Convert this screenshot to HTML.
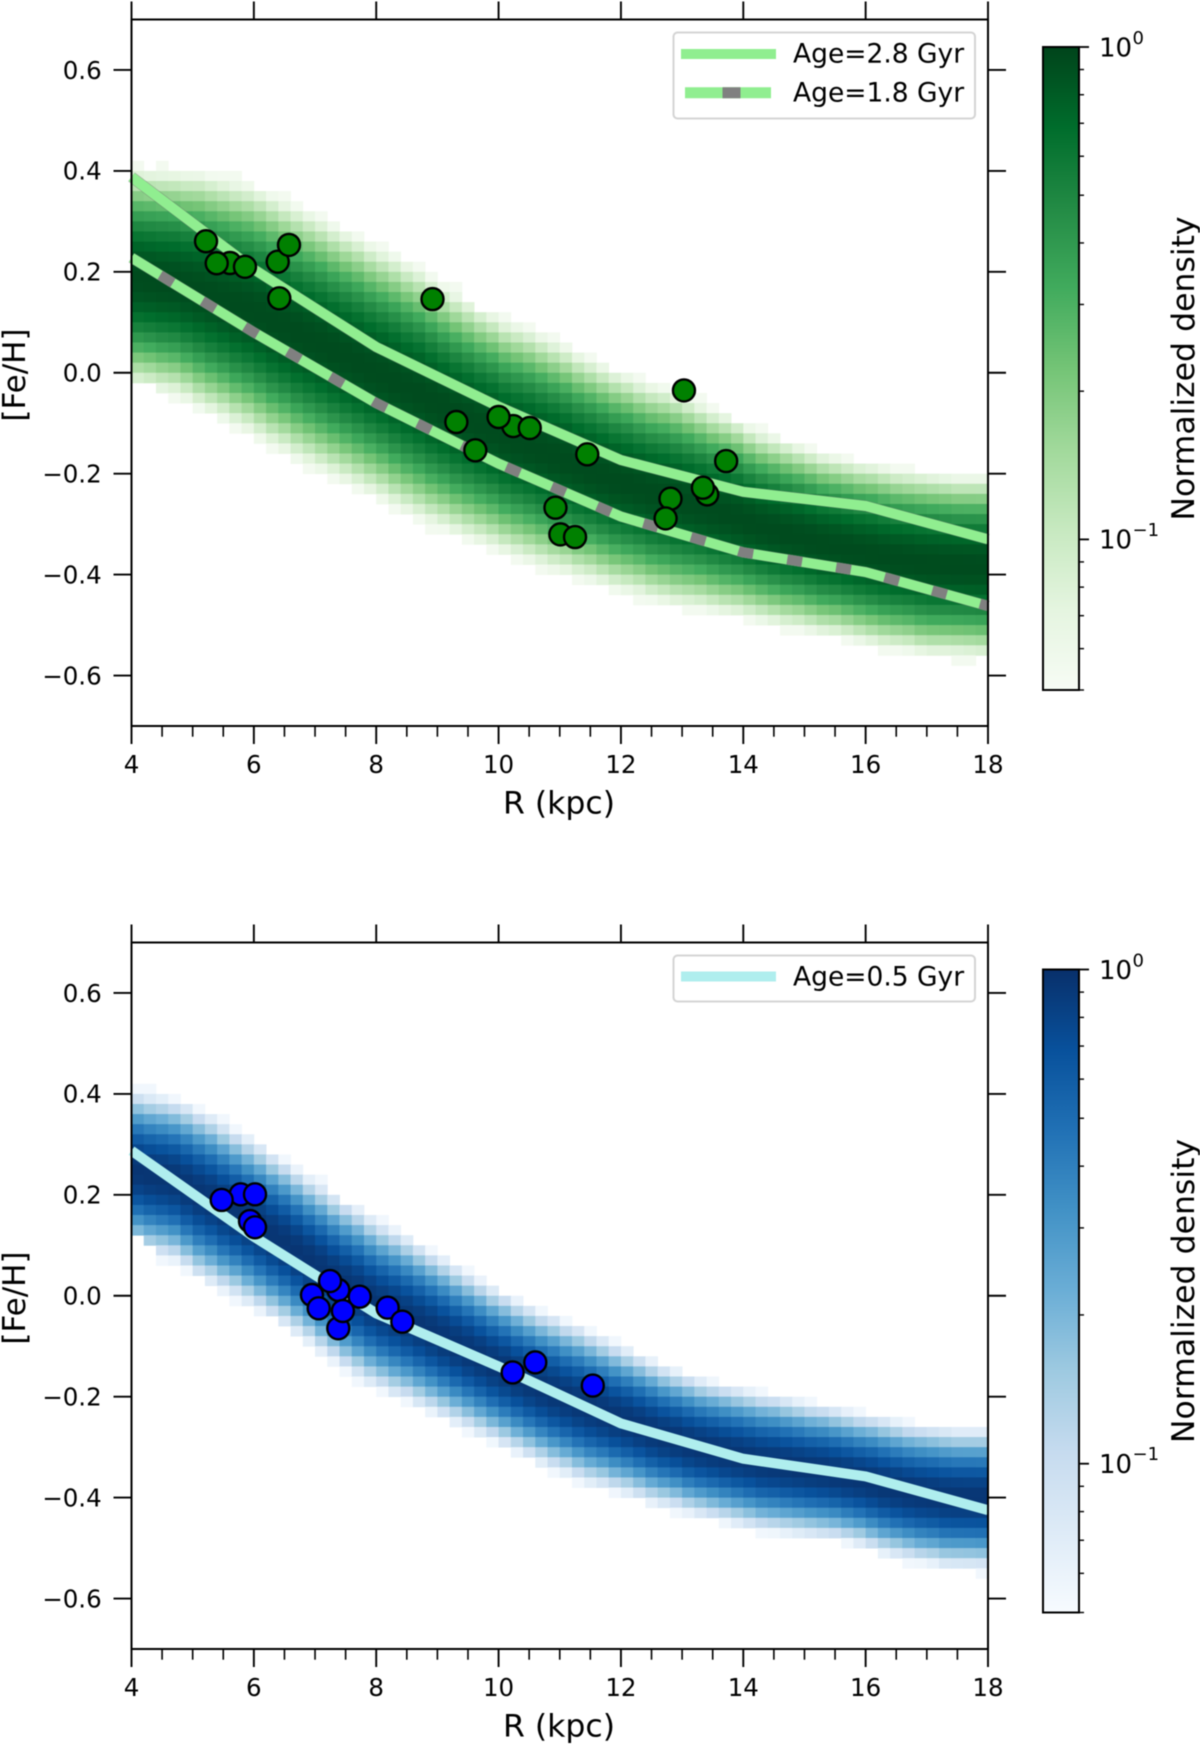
<!DOCTYPE html>
<html lang="en">
<head>
<meta charset="utf-8">
<title>Metallicity gradient density maps</title>
<style>
html,body{margin:0;padding:0;background:#fff}
svg{display:block;font-family:"DejaVu Sans","Liberation Sans",sans-serif;filter:blur(.4px)}
</style>
</head>
<body>
<svg id="chart" xmlns="http://www.w3.org/2000/svg" width="1200" height="1744" viewBox="0 0 1200 1744">
  <defs>
    <linearGradient id="greens-gradient" x1="0" y1="1" x2="0" y2="0"></linearGradient>
    <linearGradient id="blues-gradient" x1="0" y1="1" x2="0" y2="0"></linearGradient>
  </defs>
  <rect width="1200" height="1744" fill="#fff"/>
  <g id="top-marks"></g>
  <g id="bottom-marks"></g>
  <g id="frames"></g>

  <text x="559" y="813.5" font-size="31.5" text-anchor="middle" fill="#000">R (kpc)</text>
  <text x="559" y="1736.5" font-size="31.5" text-anchor="middle" fill="#000">R (kpc)</text>
  <text transform="translate(25 375) rotate(-90)" font-size="31" text-anchor="middle" fill="#000">[Fe/H]</text>
  <text transform="translate(25 1298) rotate(-90)" font-size="31" text-anchor="middle" fill="#000">[Fe/H]</text>
  <text transform="translate(1194 368.5) rotate(-90)" font-size="31.5" text-anchor="middle" fill="#000">Normalized density</text>
  <text transform="translate(1194 1291) rotate(-90)" font-size="31.5" text-anchor="middle" fill="#000">Normalized density</text>

  <g>
    <rect x="673.5" y="32.5" width="301.5" height="86" rx="4" fill="#fff" fill-opacity=".9" stroke="#d4d4d4" stroke-width="2"/>
    <line x1="681" y1="54" x2="776" y2="54" stroke="#90ee90" stroke-width="10"/>
    <text x="793" y="62.7" font-size="26.5" fill="#000">Age=2.8 Gyr</text>
    <line x1="685" y1="92.7" x2="771" y2="92.7" stroke="#90ee90" stroke-width="11"/>
    <line x1="722.5" y1="92.7" x2="740.5" y2="92.7" stroke="#808080" stroke-width="11"/>
    <text x="793" y="101.5" font-size="26.5" fill="#000">Age=1.8 Gyr</text>
  </g>
  <g>
    <rect x="673.5" y="955.5" width="301.5" height="46" rx="4" fill="#fff" fill-opacity=".9" stroke="#d4d4d4" stroke-width="2"/>
    <line x1="681" y1="976.5" x2="776" y2="976.5" stroke="#afeeee" stroke-width="10"/>
    <text x="793" y="985.5" font-size="26.5" fill="#000">Age=0.5 Gyr</text>
  </g>
</svg>
<script>
// Axis ticks
const xMajorTicks = [4, 6, 8, 10, 12, 14, 16, 18];
const xMinorTicks = [4.5, 5, 5.5, 6.5, 7, 7.5, 8.5, 9, 9.5, 10.5, 11, 11.5, 12.5, 13, 13.5, 14.5, 15, 15.5, 16.5, 17, 17.5];
const yTicks = [0.6, 0.4, 0.2, 0, -0.2, -0.4, -0.6];
const yTickLabels = ['0.6', '0.4', '0.2', '0.0', '\u22120.2', '\u22120.4', '\u22120.6'];
const colorbarMinorTicks = [0.9, 0.8, 0.7, 0.6, 0.5, 0.4, 0.3, 0.2, 0.09, 0.08, 0.07, 0.06];

// Colormaps
const greensMap = ['#f7fcf5', '#e5f5e0', '#c7e9c0', '#a1d99b', '#74c476', '#41ab5d', '#238b45', '#006d2c', '#00441b'];
const bluesMap = ['#f7fbff', '#deebf7', '#c6dbef', '#9ecae1', '#6baed6', '#4292c6', '#2171b5', '#08519c', '#08306b'];

// Heatmap: per 0.2-kpc radial column (R = 4.0 .. 17.8), the top and bottom [Fe/H] of the occupied cells
const greenUpperEdge = [.42,.40,.42,.40,.40,.40,.40,.40,.40,.38,.36,.36,.36,.34,.32,.32,.30,.28,.28,.26,.26,.24,.22,.22,.20,.18,.18,.14,.12,.12,.12,.10,.10,.08,.08,.06,.04,.04,.02,0,0,0,-.02,-.02,-.04,-.04,-.04,-.06,-.08,-.10,-.10,-.10,-.12,-.14,-.14,-.14,-.16,-.16,-.16,-.18,-.18,-.18,-.18,-.18,-.20,-.20,-.20,-.20,-.20,-.20];
const greenLowerEdge = [-.02,-.02,-.04,-.06,-.06,-.08,-.08,-.10,-.12,-.12,-.14,-.16,-.16,-.18,-.20,-.20,-.22,-.22,-.24,-.24,-.26,-.28,-.28,-.30,-.32,-.32,-.32,-.34,-.34,-.36,-.36,-.38,-.38,-.40,-.40,-.40,-.42,-.42,-.42,-.44,-.44,-.46,-.46,-.46,-.46,-.48,-.48,-.48,-.48,-.48,-.50,-.50,-.50,-.52,-.52,-.52,-.52,-.52,-.54,-.54,-.54,-.56,-.56,-.56,-.56,-.56,-.56,-.58,-.58,-.56];
const blueUpperEdge = [.42,.42,.40,.40,.38,.38,.36,.36,.34,.32,.30,.28,.28,.26,.24,.24,.20,.18,.18,.16,.16,.14,.12,.10,.10,.08,.06,.06,.04,.02,0,0,-.02,-.02,-.04,-.04,-.06,-.06,-.08,-.08,-.10,-.12,-.12,-.14,-.14,-.16,-.16,-.16,-.18,-.18,-.18,-.18,-.20,-.20,-.20,-.20,-.22,-.22,-.22,-.22,-.24,-.24,-.24,-.24,-.26,-.26,-.26,-.26,-.26,-.26];
const blueLowerEdge = [.12,.10,.06,.06,.04,.04,.02,0,-.02,-.02,-.04,-.04,-.06,-.08,-.10,-.12,-.14,-.16,-.18,-.18,-.20,-.20,-.22,-.22,-.24,-.24,-.26,-.28,-.28,-.30,-.30,-.32,-.32,-.34,-.36,-.36,-.38,-.38,-.38,-.40,-.40,-.40,-.42,-.42,-.44,-.44,-.44,-.44,-.46,-.46,-.46,-.48,-.48,-.48,-.48,-.48,-.48,-.48,-.50,-.50,-.50,-.52,-.52,-.54,-.54,-.54,-.54,-.54,-.54,-.56];

// Age gradient curves
const curveR = [4, 6, 8, 10, 12, 14, 16, 18];
const age28FeH = [.388, .205, .051, -.067, -.173, -.236, -.264, -.33];
const age18FeH = [.228, .08, -.06, -.18, -.285, -.356, -.395, -.462];
const age05FeH = [.2875, .117, -.035, -.14, -.253, -.323, -.358, -.425];

// Stars (drawn in this order)
const greenStarR = [5.61, 5.393, 5.218, 5.855, 6.39, 6.574, 6.416, 8.92, 13.03, 9.31, 9.62, 10.24, 10.0, 10.51, 11.45, 13.72, 13.41, 13.34, 12.81, 12.73, 10.93, 11.01, 11.25];
const greenStarFeH = [.2175, .217, .2606, .21, .22, .2533, .1476, .146, -.035, -.0976, -.1537, -.1056, -.0877, -.1095, -.1617, -.175, -.241, -.2278, -.2496, -.2886, -.2674, -.3203, -.3256];
const blueStarR = [5.785, 5.474, 6.019, 5.937, 6.019, 6.95, 7.06, 7.38, 7.245, 7.73, 7.38, 7.455, 8.187, 8.426, 10.23, 10.6, 11.54];
const blueStarFeH = [.201, .1898, .201, .148, .1357, .0015, -.0249, .0114, .0292, -.0019, -.0645, -.0302, -.0236, -.0514, -.152, -.132, -.178];

const SVG_NS = 'http://www.w3.org/2000/svg';
const xLeft = 131.5, xRight = 988, xMin = 4, xMax = 18;
const topPanel = {top: 19.5, bottom: 726, cbTop: 47, cbBottom: 690, cbTenth: 539.4};
const bottomPanel = {top: 942.5, bottom: 1649, cbTop: 969.5, cbBottom: 1612.5, cbTenth: 1463.7};
const binWidth = 0.2, binHeight = 0.02, smoothSpan = 3;

function xScale(r) { return xLeft + (r - xMin) * (xRight - xLeft) / (xMax - xMin); }
function yScale(v, panel) { return (panel.top + panel.bottom) / 2 - v * (panel.bottom - panel.top) / 1.4; }
function cbScale(v, panel) { return panel.cbTop - Math.log10(v) * (panel.cbTenth - panel.cbTop); }

function hexToRgb(h) { return [1, 3, 5].map(function (k) { return parseInt(h.substr(k, 2), 16); }); }
function colorFor(map, t) {
  const c = Math.max(0, Math.min(1, t)) * (map.length - 1);
  const k = Math.min(map.length - 2, Math.floor(c));
  const a = hexToRgb(map[k]), b = hexToRgb(map[k + 1]), f = c - k;
  return 'rgb(' + a.map(function (ch, n) { return Math.round(ch + (b[n] - ch) * f); }).join(',') + ')';
}
function make(parent, tag, attrs) {
  const el = document.createElementNS(SVG_NS, tag);
  Object.keys(attrs).forEach(function (k) { el.setAttribute(k, attrs[k]); });
  parent.appendChild(el);
  return el;
}
function localMean(values, i) {
  let sum = 0, n = 0;
  for (let k = Math.max(0, i - smoothSpan); k <= Math.min(values.length - 1, i + smoothSpan); k++) { sum += values[k]; n++; }
  return sum / n;
}

function drawHeatmap(parent, panel, upper, lower, map) {
  upper.forEach(function (up, i) {
    const low = lower[i];
    const meanUp = localMean(upper, i), meanLow = localMean(lower, i);
    const centre = (meanUp + meanLow) / 2, half = (meanUp - meanLow) / 2;
    const rows = Math.round((up - low) / binHeight);
    for (let j = 0; j < rows; j++) {
      const cellTop = up - j * binHeight;
      const u = (cellTop - binHeight / 2 - centre) / half;
      const r0 = xMin + i * binWidth;
      const cell = make(parent, 'rect', {
        x: xScale(r0),
        y: yScale(cellTop, panel),
        width: xScale(r0 + binWidth) - xScale(r0) + 0.4,
        height: yScale(cellTop - binHeight, panel) - yScale(cellTop, panel) + 0.4,
        fill: colorFor(map, Math.max(0.03, 1.01 - u * u - 0.03))
      });
      
      
    }
  });
}

function curvePoints(values, panel) {
  return values.map(function (v, i) { return xScale(curveR[i]) + ',' + yScale(v, panel); }).join(' ');
}

function drawCurve(parent, values, panel, colour, name, edged) {
  if (edged) {
    const edge = make(parent, 'polyline', {points: curvePoints(values, panel), fill: 'none', stroke: '#6a6a6a', 'stroke-opacity': .55, 'stroke-width': 11});
    
    
  }
  const line = make(parent, 'polyline', {points: curvePoints(values, panel), fill: 'none', stroke: colour, 'stroke-width': 10});
  
  
  return line;
}

function drawStars(parent, rs, fehs, panel, colour, name) {
  rs.forEach(function (r, i) {
    const star = make(parent, 'circle', {cx: xScale(r), cy: yScale(fehs[i], panel), r: 11, fill: colour, stroke: '#000', 'stroke-width': 2.4});
    
    
  });
}

function tickLine(parent, x1, y1, x2, y2, width, name) {
  const t = make(parent, 'line', {x1: x1, y1: y1, x2: x2, y2: y2, stroke: '#000', 'stroke-width': width});
  
  
}
function label(parent, x, y, str, anchor, size, name) {
  const t = make(parent, 'text', {x: x, y: y, 'text-anchor': anchor, 'font-size': size, fill: '#000'});
  t.textContent = str;
  
  
}

function drawAxes(parent, panel) {
  const frame = make(parent, 'rect', {x: xLeft, y: panel.top, width: xRight - xLeft, height: panel.bottom - panel.top, fill: 'none', stroke: '#000', 'stroke-width': 2});
  
  
  xMajorTicks.forEach(function (r) {
    tickLine(parent, xScale(r), panel.bottom, xScale(r), panel.bottom + 18, 1.9, 'x-major-tick');
    tickLine(parent, xScale(r), panel.top, xScale(r), panel.top - 18, 1.9, 'x-top-tick');
    label(parent, xScale(r), panel.bottom + 47, String(r), 'middle', 24.5, 'x-tick-label');
  });
  xMinorTicks.forEach(function (r) {
    tickLine(parent, xScale(r), panel.bottom, xScale(r), panel.bottom + 10.7, 1.6, 'x-minor-tick');
  });
  yTicks.forEach(function (v, i) {
    tickLine(parent, xLeft - 18, yScale(v, panel), xLeft, yScale(v, panel), 1.9, 'y-left-tick');
    tickLine(parent, xRight, yScale(v, panel), xRight + 18, yScale(v, panel), 1.9, 'y-right-tick');
    label(parent, 101.7, yScale(v, panel) + 8.8, yTickLabels[i], 'end', 24.5, 'y-tick-label');
  });
}

function drawColorbar(parent, panel, gradientId, map) {
  const grad = document.getElementById(gradientId);
  map.forEach(function (c, i) {
    make(grad, 'stop', {offset: i / (map.length - 1), 'stop-color': c});
  });
  const bar = make(parent, 'rect', {x: 1043, y: panel.cbTop, width: 36, height: panel.cbBottom - panel.cbTop, fill: 'url(#' + gradientId + ')', stroke: '#000', 'stroke-width': 2});
  
  
  colorbarMinorTicks.forEach(function (v) {
    tickLine(parent, 1079, cbScale(v, panel), 1084, cbScale(v, panel), 1.4, 'colorbar-minor-tick');
  });
  tickLine(parent, 1079, panel.cbBottom, 1084, panel.cbBottom, 1.4, 'colorbar-minor-tick');
  tickLine(parent, 1079, panel.cbTop, 1089, panel.cbTop, 1.8, 'colorbar-major-tick');
  tickLine(parent, 1079, panel.cbTenth, 1089, panel.cbTenth, 1.8, 'colorbar-major-tick');
  label(parent, 1099, panel.cbTop + 9.7, '10', 'start', 26, 'colorbar-tick-label');
  label(parent, 1132.5, panel.cbTop - 3, '0', 'start', 18, 'colorbar-tick-exponent');
  label(parent, 1099, panel.cbTenth + 9.3, '10', 'start', 26, 'colorbar-tick-label');
  label(parent, 1132.5, panel.cbTenth - 3.5, '\u22121', 'start', 18, 'colorbar-tick-exponent');
}

const topMarks = document.getElementById('top-marks');
const bottomMarks = document.getElementById('bottom-marks');
const frames = document.getElementById('frames');

drawHeatmap(topMarks, topPanel, greenUpperEdge, greenLowerEdge, greensMap);
drawCurve(topMarks, age28FeH, topPanel, '#90ee90', 'curve-age-2-8', true);
drawCurve(topMarks, age18FeH, topPanel, '#90ee90', 'curve-age-1-8', true);
const age18Dashes = make(topMarks, 'polyline', {points: curvePoints(age18FeH, topPanel), fill: 'none', stroke: '#808080', 'stroke-width': 10, 'stroke-dasharray': '15 34.5', 'stroke-dashoffset': 16});


drawStars(topMarks, greenStarR, greenStarFeH, topPanel, '#008000', 'green-star');

drawHeatmap(bottomMarks, bottomPanel, blueUpperEdge, blueLowerEdge, bluesMap);
drawCurve(bottomMarks, age05FeH, bottomPanel, '#afeeee', 'curve-age-0-5', false);
drawStars(bottomMarks, blueStarR, blueStarFeH, bottomPanel, '#0000ff', 'blue-star');

drawAxes(frames, topPanel);
drawAxes(frames, bottomPanel);
drawColorbar(frames, topPanel, 'greens-gradient', greensMap);
drawColorbar(frames, bottomPanel, 'blues-gradient', bluesMap);
</script>
</body>
</html>
